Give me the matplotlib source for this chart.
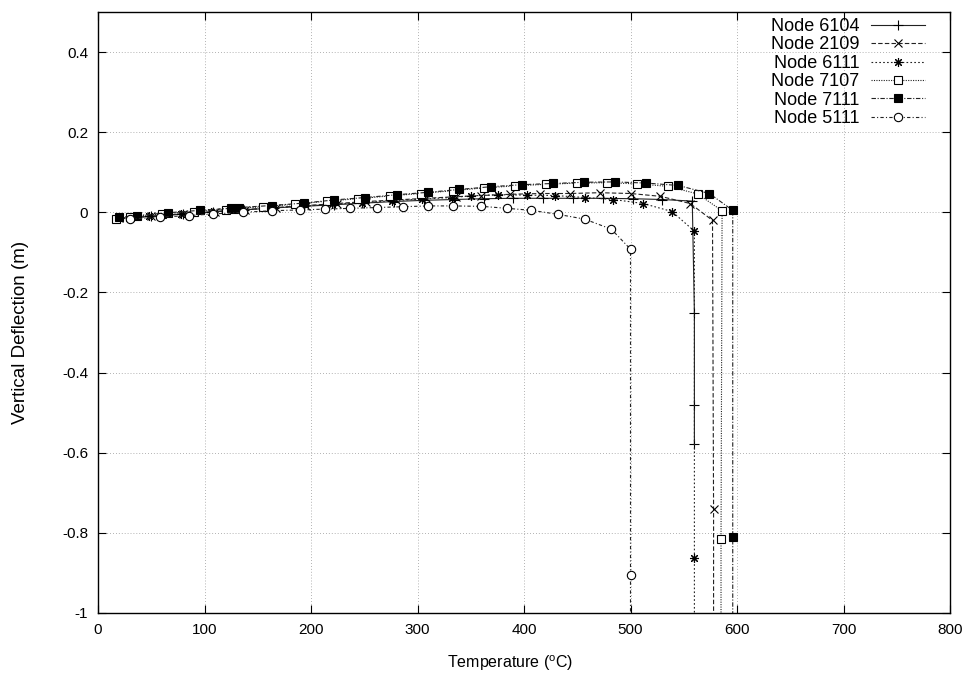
import matplotlib
matplotlib.use("Agg")
import matplotlib.pyplot as plt

plt.rcParams['font.family'] = ['Liberation Sans', 'DejaVu Sans']
plt.rcParams['mathtext.fontset'] = 'custom'
plt.rcParams['mathtext.rm'] = 'Liberation Sans'
plt.rcParams['mathtext.it'] = 'Liberation Sans'

# ---- data (temperature in degC, deflection in m) ----
t_6104 = [20, 50, 80, 108, 137, 165, 193, 222, 250, 278, 306, 334, 362, 390, 418, 446, 474, 502, 530, 558, 560, 560, 560]
d_6104 = [-0.015, -0.010, -0.004, 0.001, 0.006, 0.011, 0.015, 0.019, 0.023, 0.027, 0.030, 0.032, 0.034, 0.035, 0.035, 0.035, 0.035, 0.034, 0.032, 0.028, -0.25, -0.48, -0.579]

t_2109 = [20, 50, 80, 110, 138, 167, 195, 224, 252, 280, 308, 336, 360, 387, 415, 443, 471, 500, 528, 556, 577, 578, 578]
d_2109 = [-0.015, -0.010, -0.004, 0.002, 0.007, 0.012, 0.017, 0.022, 0.027, 0.031, 0.035, 0.039, 0.042, 0.045, 0.047, 0.047, 0.049, 0.047, 0.040, 0.022, -0.020, -0.740, -1.5]

t_6111 = [20, 48, 78, 106, 135, 163, 191, 220, 248, 276, 304, 332, 350, 376, 403, 429, 457, 484, 512, 539, 560, 560, 560]
d_6111 = [-0.015, -0.010, -0.004, 0.001, 0.006, 0.011, 0.015, 0.020, 0.024, 0.029, 0.033, 0.037, 0.041, 0.044, 0.043, 0.042, 0.037, 0.032, 0.022, 0.002, -0.047, -0.863, -1.5]

t_7107 = [17, 30, 60, 90, 120, 128, 155, 185, 215, 244, 274, 303, 333, 362, 392, 421, 450, 478, 506, 535, 563, 586, 585, 585]
d_7107 = [-0.016, -0.011, -0.004, 0.002, 0.007, 0.009, 0.014, 0.020, 0.028, 0.034, 0.041, 0.047, 0.054, 0.061, 0.066, 0.070, 0.073, 0.074, 0.071, 0.065, 0.046, 0.004, -0.815, -1.5]

t_7111 = [20, 37, 66, 96, 125, 132, 163, 193, 222, 251, 281, 310, 339, 369, 398, 427, 456, 485, 515, 545, 574, 596, 596, 596]
d_7111 = [-0.012, -0.008, -0.001, 0.005, 0.010, 0.012, 0.017, 0.023, 0.031, 0.037, 0.044, 0.050, 0.057, 0.064, 0.069, 0.072, 0.075, 0.076, 0.073, 0.067, 0.047, 0.005, -0.810, -1.5]

t_5111 = [30, 58, 85, 108, 136, 163, 190, 213, 237, 262, 286, 310, 333, 360, 384, 407, 432, 457, 482, 500, 500, 500]
d_5111 = [-0.017, -0.012, -0.008, -0.004, 0.000, 0.004, 0.006, 0.008, 0.010, 0.012, 0.014, 0.016, 0.016, 0.015, 0.010, 0.005, -0.005, -0.017, -0.042, -0.092, -0.905, -1.5]

labels = ['Node 6104', 'Node 2109', 'Node 6111', 'Node 7107', 'Node 7111', 'Node 5111']
x_ticks = [0, 100, 200, 300, 400, 500, 600, 700, 800]
y_ticks = [-1, -0.8, -0.6, -0.4, -0.2, 0, 0.2, 0.4]
y_ticklabels = ['-1', '-0.8', '-0.6', '-0.4', '-0.2', '0', '0.2', '0.4']

# ---- figure ----
fig = plt.figure(figsize=(9.71, 6.79), dpi=100)
ax = fig.add_axes([98 / 971, 1 - 613 / 679, 852 / 971, 601 / 679])

lc = '#222222'
styles = [
    dict(ls='-', marker='+', ms=7, mfc='none'),
    dict(ls=(0, (4, 2)), marker='x', ms=5.5, mfc='none'),
    dict(ls=(0, (1.5, 2)), marker=(8, 2, 0), ms=6.5, mfc='none'),
    dict(ls=(0, (1, 1.2)), marker='s', ms=6, mfc='white'),
    dict(ls=(0, (4, 1.5, 1, 1.5)), marker='s', ms=6, mfc='black'),
    dict(ls=(0, (3, 2, 1, 2)), marker='o', ms=6, mfc='white'),
]
series = [(t_6104, d_6104), (t_2109, d_2109), (t_6111, d_6111),
          (t_7107, d_7107), (t_7111, d_7111), (t_5111, d_5111)]

for (t, d), lab, st in zip(series, labels, styles):
    ax.plot(t, d, color=lc, lw=0.8, mec='black', mew=0.8, label=lab, **st)

ax.set_xlim(0, 800)
ax.set_ylim(-1, 0.5)
ax.set_xticks(x_ticks)
ax.set_yticks(y_ticks)
ax.set_yticklabels(y_ticklabels)
ax.tick_params(direction='in', length=6, width=0.8, top=True, right=True,
               labelsize=11, pad=7, colors='black')
ax.grid(True, ls=(0, (1, 2.5)), color='#999999', lw=0.6)
for s in ax.spines.values():
    s.set_linewidth(1.0)
    s.set_color('black')

ax.set_xlabel(r'Temperature ($^{\rm o}$C)', fontsize=11.5, va='center')
ax.set_ylabel('Vertical Deflection (m)', fontsize=13.5, va='center', ha='center')
ax.xaxis.set_label_coords(0.4836, -0.083)
ax.yaxis.set_label_coords(-0.0915, 0.4676)

leg = ax.legend(loc='upper right', bbox_to_anchor=(0.971, 0.99), frameon=False,
                markerfirst=False, numpoints=1, handlelength=3.0, handletextpad=0.65,
                labelspacing=0.08, fontsize=13, borderaxespad=0, borderpad=0)

fig.savefig('out.png', dpi=100)
